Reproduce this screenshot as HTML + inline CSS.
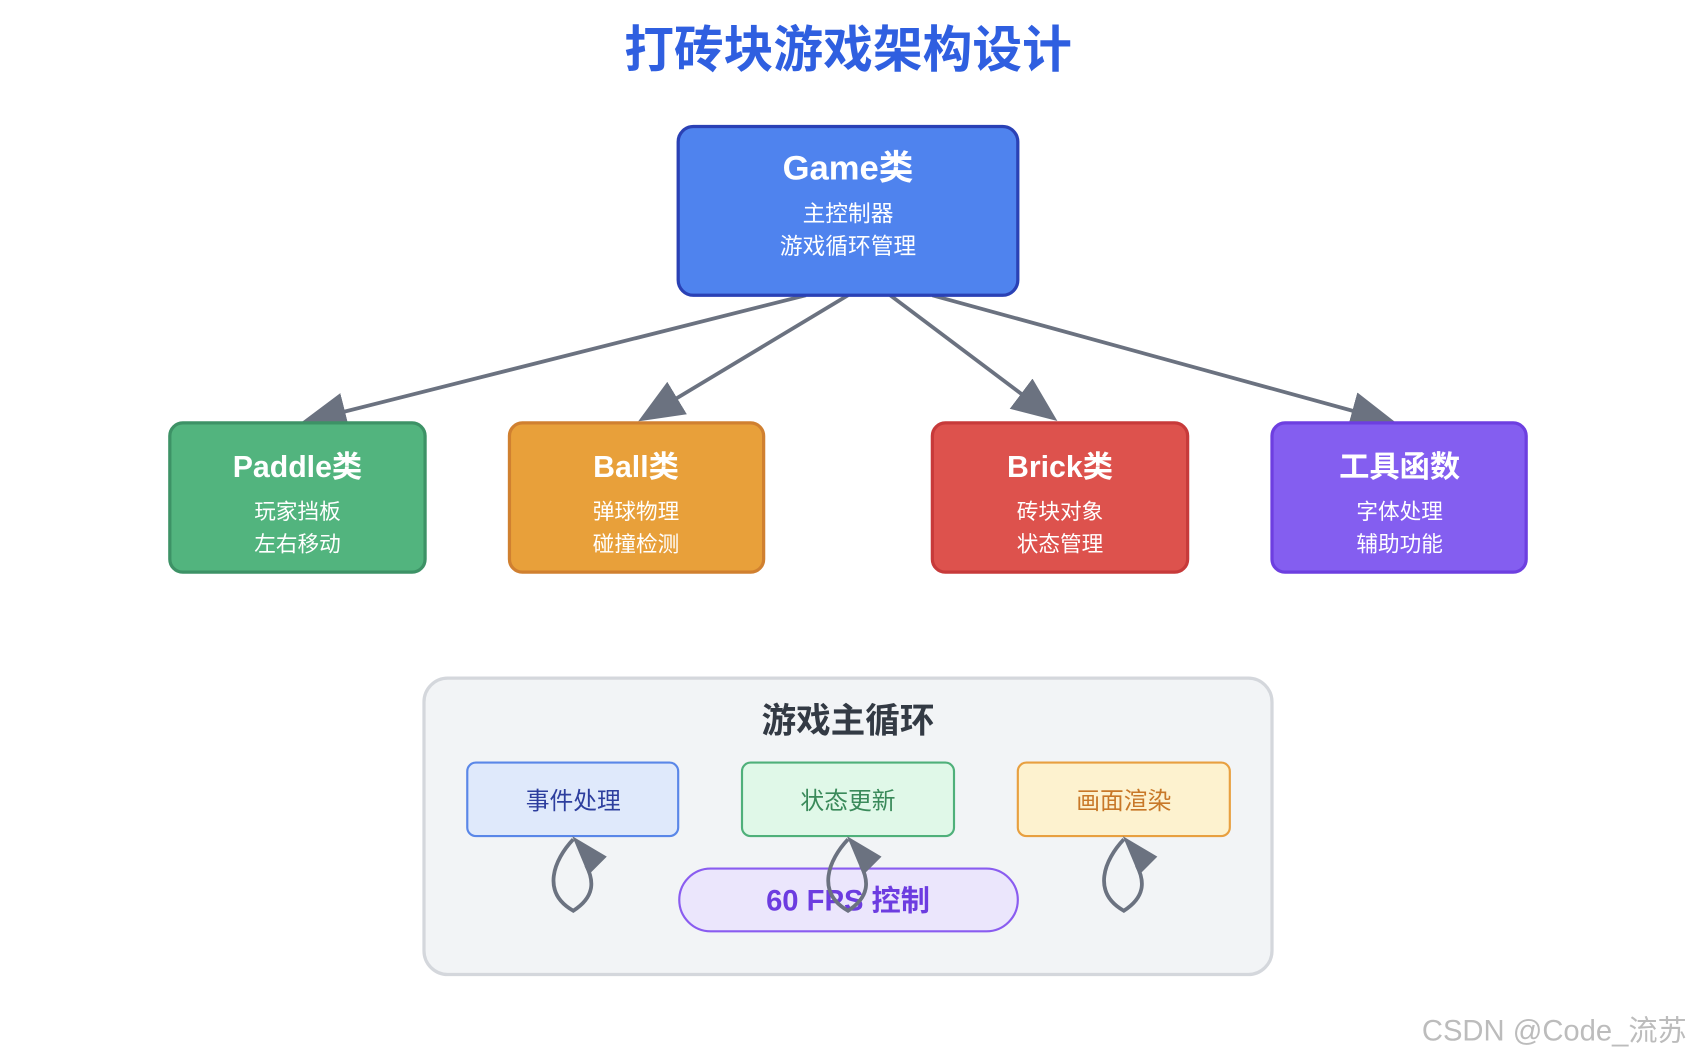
<!DOCTYPE html>
<html><head><meta charset="utf-8"><style>
html,body{margin:0;padding:0;background:#fff;}
svg{display:block;}
text{font-family:"Liberation Sans","Noto Sans CJK SC",sans-serif;}
</style></head><body>
<svg width="1696" height="1060" viewBox="0 0 1568 980" xmlns="http://www.w3.org/2000/svg">
<defs>
<marker id="ah" markerWidth="12" markerHeight="10" refX="10" refY="5" orient="auto" markerUnits="strokeWidth">
<polygon points="0,0 12,5 0,10" fill="#6b7280"/></marker>
</defs>
<text x="784" y="62" text-anchor="middle" font-size="46" font-weight="bold" fill="#2f5fe0">打砖块游戏架构设计</text>

<g stroke="#6b7280" stroke-width="3.5" fill="none">
<line x1="745" y1="273" x2="285" y2="389" marker-end="url(#ah)"/>
<line x1="784" y1="273" x2="596" y2="386" marker-end="url(#ah)"/>
<line x1="823" y1="273" x2="972" y2="385" marker-end="url(#ah)"/>
<line x1="862" y1="273" x2="1284" y2="389" marker-end="url(#ah)"/>
</g>

<rect x="627" y="117" width="314" height="156" rx="14" fill="#4f83ee" stroke="#2a41b5" stroke-width="3"/>
<text x="784" y="166" text-anchor="middle" font-size="32" font-weight="bold" fill="#fff">Game类</text>
<text x="784" y="205" text-anchor="middle" font-size="21" fill="#fff">主控制器</text>
<text x="784" y="235" text-anchor="middle" font-size="21" fill="#fff">游戏循环管理</text>

<rect x="157" y="391" width="236" height="138" rx="12" fill="#52b47e" stroke="#3d9266" stroke-width="3"/>
<text x="275" y="441" text-anchor="middle" font-size="28" font-weight="bold" fill="#fff">Paddle类</text>
<text x="275" y="480" text-anchor="middle" font-size="20" fill="#fff">玩家挡板</text>
<text x="275" y="510" text-anchor="middle" font-size="20" fill="#fff">左右移动</text>

<rect x="471" y="391" width="235" height="138" rx="12" fill="#e8a03a" stroke="#d08030" stroke-width="3"/>
<text x="588" y="441" text-anchor="middle" font-size="28" font-weight="bold" fill="#fff">Ball类</text>
<text x="588" y="480" text-anchor="middle" font-size="20" fill="#fff">弹球物理</text>
<text x="588" y="510" text-anchor="middle" font-size="20" fill="#fff">碰撞检测</text>

<rect x="862" y="391" width="236" height="138" rx="12" fill="#dd524d" stroke="#c73a3a" stroke-width="3"/>
<text x="980" y="441" text-anchor="middle" font-size="28" font-weight="bold" fill="#fff">Brick类</text>
<text x="980" y="480" text-anchor="middle" font-size="20" fill="#fff">砖块对象</text>
<text x="980" y="510" text-anchor="middle" font-size="20" fill="#fff">状态管理</text>

<rect x="1176" y="391" width="235" height="138" rx="12" fill="#845ef0" stroke="#6d3fe0" stroke-width="3"/>
<text x="1294" y="441" text-anchor="middle" font-size="28" font-weight="bold" fill="#fff">工具函数</text>
<text x="1294" y="480" text-anchor="middle" font-size="20" fill="#fff">字体处理</text>
<text x="1294" y="510" text-anchor="middle" font-size="20" fill="#fff">辅助功能</text>

<rect x="392" y="627" width="784" height="274" rx="22" fill="#f2f4f6" stroke="#d4d7dc" stroke-width="3"/>
<text x="784" y="677" text-anchor="middle" font-size="32" font-weight="bold" fill="#333a44">游戏主循环</text>

<rect x="432" y="705" width="195" height="68" rx="8" fill="#dfe9fb" stroke="#5a87e8" stroke-width="2"/>
<text x="530" y="748" text-anchor="middle" font-size="22" fill="#2d3e9e">事件处理</text>
<rect x="686" y="705" width="196" height="68" rx="8" fill="#e0f8e8" stroke="#4fb07a" stroke-width="2"/>
<text x="784" y="748" text-anchor="middle" font-size="22" fill="#3a8a5a">状态更新</text>
<rect x="941" y="705" width="196" height="68" rx="8" fill="#fdf2cf" stroke="#e8a040" stroke-width="2"/>
<text x="1039" y="748" text-anchor="middle" font-size="22" fill="#c87828">画面渲染</text>

<rect x="628" y="803" width="313" height="58" rx="29" fill="#ebe6fc" stroke="#8a5cf0" stroke-width="2"/>
<text x="784" y="842" text-anchor="middle" font-size="27" font-weight="bold" fill="#6c3ce0">60 FPS 控制</text>

<g stroke="#6b7280" stroke-width="3.5" fill="none">
<path d="M530,776 C512,795 500,825 530,842 C552,828 548,812 542,800"/>
<path d="M784,776 C766,795 754,825 784,842 C806,828 802,812 796,800"/>
<path d="M1039,776 C1021,795 1009,825 1039,842 C1061,828 1057,812 1051,800"/>
</g>
<g fill="#6b7280">
<polygon points="529,773 561,792 544,809"/>
<polygon points="783,773 815,792 798,809"/>
<polygon points="1038,773 1070,792 1053,809"/>
</g>

<text x="1437" y="962" text-anchor="middle" font-size="27" fill="#bcbcbc">CSDN @Code_流苏</text>
</svg>
</body></html>
